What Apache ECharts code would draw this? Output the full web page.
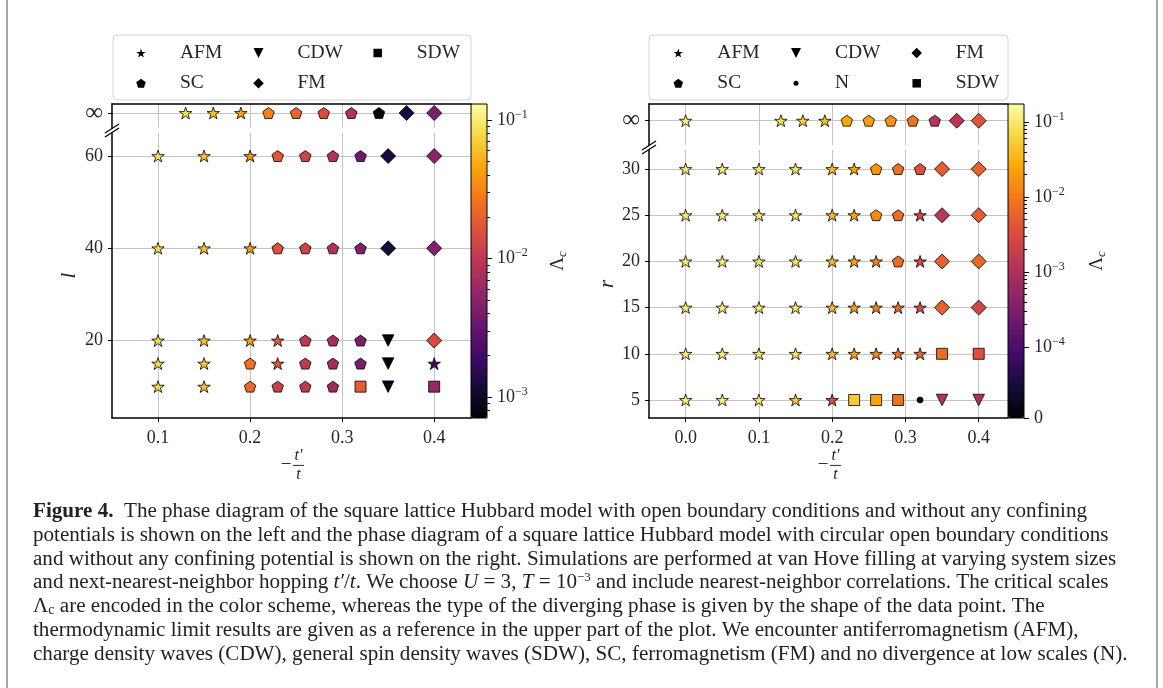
<!DOCTYPE html>
<html lang="en">
<head>
    <meta charset="UTF-8">
    <title>Phase diagram</title>
    <script src="https://cdn.jsdelivr.net/npm/echarts@6/dist/echarts.min.js"></script>
    <style>
        body { margin: 0; padding: 0; background: #fff; }
        #box { width: 1163px; height: 688px; }
    </style>
</head>
<body>
<div id="box"></div>
<script>
    // left panel: open boundaries, linear size l (row "inf" = thermodynamic limit)
    var hopLeftInf = [0.13, 0.16, 0.19, 0.22, 0.25, 0.28, 0.31, 0.34, 0.37, 0.40];
    var phaseLeftInf = ['AFM', 'AFM', 'AFM', 'SC', 'SC', 'SC', 'SC', 'SC', 'FM', 'FM'];
    var lamLeftInf = [0.086, 0.0629, 0.0436, 0.0303, 0.021, 0.0146, 0.0086, 0.00078, 0.00125, 0.00416];

    var hopLeft = [0.1, 0.15, 0.2, 0.23, 0.26, 0.29, 0.32, 0.35, 0.4];
    var sizeLeft = [60, 40, 20, 15, 10];
    var phaseLeft = [
        ['AFM', 'AFM', 'AFM', 'SC', 'SC', 'SC', 'SC', 'FM', 'FM'],
        ['AFM', 'AFM', 'AFM', 'SC', 'SC', 'SC', 'SC', 'FM', 'FM'],
        ['AFM', 'AFM', 'AFM', 'AFM', 'SC', 'SC', 'SC', 'CDW', 'FM'],
        ['AFM', 'AFM', 'SC', 'AFM', 'SC', 'SC', 'SC', 'CDW', 'AFM'],
        ['AFM', 'AFM', 'SC', 'SC', 'SC', 'SC', 'SDW', 'CDW', 'SDW']
    ];
    var lamLeft = [
        [0.086, 0.0629, 0.0373, 0.017, 0.0125, 0.0082, 0.00356, 0.00125, 0.00513],
        [0.0816, 0.0629, 0.0393, 0.0162, 0.0125, 0.0082, 0.00462, 0.00119, 0.00462],
        [0.0816, 0.0629, 0.0414, 0.0189, 0.0101, 0.00739, 0.00416, 0.0007, 0.0146],
        [0.0816, 0.0629, 0.0246, 0.017, 0.0101, 0.00702, 0.00416, 0.0007, 0.0018],
        [0.0816, 0.0629, 0.0221, 0.0112, 0.0101, 0.00665, 0.0189, 0.00087, 0.006]
    ];

    // right panel: circular open boundaries, radius r
    var hopRightInf = [0, 0.13, 0.16, 0.19, 0.22, 0.25, 0.28, 0.31, 0.34, 0.37, 0.40];
    var phaseRightInf = ['AFM', 'AFM', 'AFM', 'AFM', 'SC', 'SC', 'SC', 'SC', 'SC', 'FM', 'FM'];
    var lamRightInf = [0.118, 0.073, 0.0547, 0.0409, 0.0253, 0.0208, 0.0172, 0.00875, 0.00127, 0.00127, 0.00405];

    var hopRight = [0, 0.05, 0.1, 0.15, 0.2, 0.23, 0.26, 0.29, 0.32, 0.35, 0.4];
    var radRight = [30, 25, 20, 15, 10, 5];
    var phaseRight = [
        ['AFM', 'AFM', 'AFM', 'AFM', 'AFM', 'AFM', 'SC', 'SC', 'SC', 'FM', 'FM'],
        ['AFM', 'AFM', 'AFM', 'AFM', 'AFM', 'AFM', 'SC', 'SC', 'AFM', 'FM', 'FM'],
        ['AFM', 'AFM', 'AFM', 'AFM', 'AFM', 'AFM', 'AFM', 'SC', 'AFM', 'FM', 'FM'],
        ['AFM', 'AFM', 'AFM', 'AFM', 'AFM', 'AFM', 'AFM', 'AFM', 'AFM', 'FM', 'FM'],
        ['AFM', 'AFM', 'AFM', 'AFM', 'AFM', 'AFM', 'AFM', 'AFM', 'AFM', 'SDW', 'SDW'],
        ['AFM', 'AFM', 'AFM', 'AFM', 'AFM', 'SDW', 'SDW', 'SDW', 'N', 'CDW', 'CDW']
    ];
    var lamRight = [
        [0.107, 0.107, 0.0975, 0.0885, 0.0409, 0.0253, 0.0172, 0.00794, 0.00367, 0.00491, 0.0054],
        [0.107, 0.107, 0.0975, 0.0885, 0.0372, 0.0253, 0.0142, 0.00721, 0.0025, 0.0014, 0.00491],
        [0.107, 0.107, 0.0975, 0.0885, 0.0372, 0.023, 0.0117, 0.00721, 0.00275, 0.0054, 0.00655],
        [0.107, 0.107, 0.0975, 0.0885, 0.0372, 0.023, 0.0117, 0.00655, 0.00303, 0.0054, 0.0025],
        [0.107, 0.107, 0.0975, 0.0885, 0.0372, 0.023, 0.0129, 0.00794, 0.00655, 0.00721, 0.00367],
        [0.107, 0.107, 0.0975, 0.0451, 0.003, 0.0497, 0.023, 0.00794, 0, 0.00116, 0.00105]
    ];

    // ticks
    var tickLeftX = [0.1, 0.2, 0.3, 0.4];
    var tickLeftY = [20, 40, 60];
    var tickRightX = [0, 0.1, 0.2, 0.3, 0.4];
    var tickRightY = [5, 10, 15, 20, 25, 30];
    var cbLeftMajor = [1e-3, 1e-2, 1e-1];
    var cbRightMajor = [0, 1e-4, 1e-3, 1e-2, 1e-1];
    var cbLeftRange = [7.05e-4, 0.1305];
    var cbRightRange = [0, 0.174];

    var INFERNO = ['#000004', '#160b39', '#420a68', '#6a176e', '#932667', '#bc3754',
        '#dd513a', '#f37819', '#fca50a', '#f6d746', '#fcffa4'];
    var SERIF = 'Liberation Serif';
    var INK = '#262626';

    function log10(v) { return Math.log(v) / Math.LN10; }
    // symlog used by the right colour bar (linear below 1e-4)
    var LINTHRESH = 1e-4, LINWIDTH = 0.947;
    function symlog(v) {
        return v <= LINTHRESH ? LINWIDTH * v / LINTHRESH : LINWIDTH + log10(v / LINTHRESH);
    }

    // marker shapes like matplotlib's * p D s v .
    function poly(n, inner) {
        var k = inner ? 2 * n : n, d = '';
        for (var i = 0; i < k; i++) {
            var a = -Math.PI / 2 + i * 2 * Math.PI / k;
            var r = (inner && i % 2) ? inner : 1;
            d += (i ? 'L' : 'M') + (r * Math.cos(a)).toFixed(3) + ',' + (r * Math.sin(a)).toFixed(3);
        }
        return 'path://' + d + 'Z';
    }
    // aspect = width / height of the path box
    var SYM = {
        AFM: {path: poly(5, 0.382), size: 12.5, legend: 9, aspect: 1.051},
        SC: {path: poly(5), size: 11.5, legend: 9, aspect: 1.051},
        FM: {path: 'path://M0,-1L1,0L0,1L-1,0Z', size: 15, legend: 10.5, aspect: 1},
        SDW: {path: 'path://M-1,-1L1,-1L1,1L-1,1Z', size: 11, legend: 8.5, aspect: 1},
        CDW: {path: 'path://M-1,-1L1,-1L0,1Z', size: 11.5, legend: 10, aspect: 1},
        N: {path: 'path://M1,0A1,1 0 1,1 -1,0A1,1 0 1,1 1,0Z', size: 6, legend: 5, aspect: 1}
    };

    var series = [];
    function addSeries(xi, yi, pts, out) {
        var byPhase = {};
        pts.forEach(function (p) {
            (byPhase[p[3]] = byPhase[p[3]] || []).push([p[0], p[1], p[2]]);
        });
        Object.keys(byPhase).forEach(function (ph) {
            series.push({
                type: 'scatter', name: ph, xAxisIndex: xi, yAxisIndex: yi,
                symbol: SYM[ph].path, symbolSize: SYM[ph].size, symbolKeepAspect: true,
                itemStyle: {borderColor: '#000', borderWidth: 0.8, opacity: 1},
                emphasis: {disabled: true},
                data: byPhase[ph]
            });
            out.push(series.length - 1);
        });
    }
    function rowPoints(hops, y, phases, lams, tf) {
        return hops.map(function (h, i) { return [h, y, tf(lams[i]), phases[i]]; });
    }

    var leftIdx = [], rightIdx = [];
    addSeries(0, 0, rowPoints(hopLeftInf, 0, phaseLeftInf, lamLeftInf, log10), leftIdx);
    var leftMain = [];
    sizeLeft.forEach(function (l, r) {
        leftMain = leftMain.concat(rowPoints(hopLeft, l, phaseLeft[r], lamLeft[r], log10));
    });
    addSeries(1, 1, leftMain, leftIdx);
    addSeries(3, 4, rowPoints(hopRightInf, 0, phaseRightInf, lamRightInf, symlog), rightIdx);
    var rightMain = [];
    radRight.forEach(function (rr, r) {
        rightMain = rightMain.concat(rowPoints(hopRight, rr, phaseRight[r], lamRight[r], symlog));
    });
    addSeries(4, 5, rightMain, rightIdx);

    // colour bar minor ticks
    function minors(tf, lo, hi) {
        var out = [];
        [-4, -3, -2].forEach(function (k) {
            for (var m = 2; m <= 9; m++) {
                var v = m * Math.pow(10, k);
                if (v > lo && v < hi) out.push(tf(v));
            }
        });
        return out;
    }

    var GRIDLINE = {show: true, lineStyle: {color: '#c4c4c4', width: 1}};
    var SPINE = {show: true, onZero: false, lineStyle: {color: '#000', width: 1.5}};
    var TICK = {show: true, length: 4, inside: false, lineStyle: {color: '#000', width: 1}};
    var LABEL = {fontFamily: SERIF, fontSize: 18, color: INK};
    var supRich = {
        b: {fontFamily: SERIF, fontSize: 18, color: INK},
        s: {fontFamily: SERIF, fontSize: 12, color: INK, padding: [0, 0, 11, 0]}
    };
    var fracName = '{s| }{f|t′}\n{m|−}{bar| }\n{s| }{f|t}';
    var fracRich = {
        s: {width: 14, fontSize: 12, lineHeight: 13},
        f: {width: 11, align: 'center', fontFamily: SERIF, fontStyle: 'italic', fontSize: 16, lineHeight: 13, color: INK},
        m: {width: 14, align: 'center', fontFamily: SERIF, fontSize: 19, lineHeight: 6, color: INK},
        bar: {width: 11, height: 1, fontSize: 1, lineHeight: 6, backgroundColor: INK}
    };
    var lamName = '{a|Λ}{c|c}';
    var lamRich = {
        a: {fontFamily: SERIF, fontSize: 19, color: INK},
        c: {fontFamily: SERIF, fontStyle: 'italic', fontSize: 13, color: INK, padding: [8, 0, 0, 0]}
    };

    function xMain(grid, lo, hi, ticks) {
        return {
            gridIndex: grid, type: 'value', position: 'bottom', min: lo, max: hi,
            axisLine: SPINE, axisTick: Object.assign({customValues: ticks}, TICK),
            axisLabel: Object.assign({customValues: ticks, margin: 11, formatter: function (v) { return v.toFixed(1); }}, LABEL),
            splitLine: GRIDLINE,
            name: fracName, nameLocation: 'middle', nameGap: 27, nameTextStyle: {rich: fracRich}
        };
    }
    function xTop(grid, lo, hi, ticks) {
        return {
            gridIndex: grid, type: 'value', position: 'top', min: lo, max: hi,
            axisLine: SPINE, axisTick: {show: false, customValues: ticks},
            axisLabel: {show: false, customValues: ticks}, splitLine: GRIDLINE
        };
    }
    function yInf(grid, hi) {
        return {
            gridIndex: grid, type: 'value', min: -1, max: hi,
            axisLine: SPINE, axisTick: Object.assign({customValues: [0]}, TICK),
            axisLabel: {customValues: [0], margin: 9, formatter: function () { return '∞'; }, fontFamily: SERIF, fontSize: 25, color: INK},
            splitLine: GRIDLINE
        };
    }
    function yMain(grid, lo, hi, ticks, name, gap) {
        return {
            gridIndex: grid, type: 'value', min: lo, max: hi,
            axisLine: SPINE, axisTick: Object.assign({customValues: ticks}, TICK),
            axisLabel: Object.assign({customValues: ticks, margin: 9}, LABEL),
            splitLine: GRIDLINE,
            name: name, nameLocation: 'middle', nameGap: gap,
            nameTextStyle: {fontFamily: SERIF, fontStyle: 'italic', fontSize: 21, color: INK}
        };
    }
    function yBar(grid, lo, hi, majors, fmt, gap) {
        return {
            gridIndex: grid, type: 'value', position: 'right', min: lo, max: hi,
            axisLine: {show: false, onZero: false},
            axisTick: {show: true, length: 5, customValues: majors, lineStyle: {color: '#000', width: 1}},
            axisLabel: {customValues: majors, margin: 10, formatter: fmt, rich: supRich},
            splitLine: {show: false},
            name: lamName, nameLocation: 'middle', nameGap: gap, nameTextStyle: {rich: lamRich}
        };
    }
    function yBarMinor(grid, lo, hi, vals) {
        return {
            gridIndex: grid, type: 'value', position: 'right', min: lo, max: hi,
            axisLine: {show: false, onZero: false},
            axisTick: {show: true, length: 3, customValues: vals, lineStyle: {color: '#000', width: 1}},
            axisLabel: {show: false}, splitLine: {show: false}
        };
    }

    var lLo = log10(cbLeftRange[0]), lHi = log10(cbLeftRange[1]);
    var rLo = symlog(cbRightRange[0]), rHi = symlog(cbRightRange[1]);
    function fmtLeft(v) {
        var e = Math.round(v);
        return '{b|10}{s|−' + Math.abs(e) + '}';
    }
    function fmtRight(v) {
        if (v < 0.3) return '{b|0}';
        var e = Math.round(v - LINWIDTH) - 4;
        return '{b|10}{s|−' + Math.abs(e) + '}';
    }

    // legend: one component per entry so columns line up like matplotlib's.
    // ECharts places a legend by its drawn box, so left = marker centre - half marker width
    var legendSpots = [
        ['AFM', 141, 53], ['CDW', 258.5, 53], ['SDW', 377.7, 53], ['SC', 141, 83.3], ['FM', 258.5, 83.3],
        ['AFM', 678.3, 53], ['CDW', 796, 53], ['FM', 916.7, 53], ['SC', 678.3, 83.3], ['N', 796, 83.3], ['SDW', 916.7, 83.3]
    ];
    var legends = legendSpots.map(function (s) {
        var sym = SYM[s[0]];
        return {
            data: [s[0]], left: s[1] - sym.legend * sym.aspect / 2, top: s[2] - 12, padding: 0, itemGap: 0,
            itemWidth: 68, itemHeight: sym.legend, selectedMode: false,
            itemStyle: {color: '#000', borderWidth: 0},
            textStyle: {fontFamily: SERIF, fontSize: 19.5, color: INK, lineHeight: 24}
        };
    });

    var captionLines = [
        '{bf|Figure 4.}  The phase diagram of the square lattice Hubbard model with open boundary conditions and without any confining',
        'potentials is shown on the left and the phase diagram of a square lattice Hubbard model with circular open boundary conditions',
        'and without any confining potential is shown on the right. Simulations are performed at van Hove filling at varying system sizes',
        'and next-nearest-neighbor hopping {it|t′}/{it|t}. We choose {it|U} = 3, {it|T} = 10{sup|−3} and include nearest-neighbor correlations. The critical scales',
        'Λ{sub|c} are encoded in the color scheme, whereas the type of the diverging phase is given by the shape of the data point. The',
        'thermodynamic limit results are given as a reference in the upper part of the plot. We encounter antiferromagnetism (AFM),',
        'charge density waves (CDW), general spin density waves (SDW), SC, ferromagnetism (FM) and no divergence at low scales (N).'
    ];
    var CAP_FS = 21.1, CAP_LH = 23.7;

    function breakMark(cx, cy) {
        return [-2, 2].map(function (o) {
            return {
                type: 'line', z: 20,
                shape: {x1: cx - 7, y1: cy + 4.5 + o, x2: cx + 7, y2: cy - 4.5 + o},
                style: {stroke: '#000', lineWidth: 1.3}
            };
        });
    }

    var option = {
        animation: false,
        backgroundColor: '#fff',
        grid: [
            {left: 112, top: 104, width: 359, height: 24, outerBoundsMode: 'none'},
            {left: 112, top: 133, width: 359, height: 285, outerBoundsMode: 'none'},
            {left: 471, top: 104, width: 16, height: 314, outerBoundsMode: 'none'},
            {left: 649, top: 104, width: 359, height: 41, outerBoundsMode: 'none'},
            {left: 649, top: 150, width: 359, height: 268, outerBoundsMode: 'none'},
            {left: 1008, top: 104, width: 16, height: 314, outerBoundsMode: 'none'}
        ],
        xAxis: [
            xTop(0, 0.05, 0.44, tickLeftX),
            xMain(1, 0.05, 0.44, tickLeftX),
            {gridIndex: 2, type: 'value', show: false, min: 0, max: 1},
            xTop(3, -0.05, 0.44, tickRightX),
            xMain(4, -0.05, 0.44, tickRightX),
            {gridIndex: 5, type: 'value', show: false, min: 0, max: 1}
        ],
        yAxis: [
            yInf(0, 0.6),
            yMain(1, 3.2, 65, tickLeftY, 'l', 32),
            yBar(2, lLo, lHi, cbLeftMajor.map(log10), fmtLeft, 61),
            yBarMinor(2, lLo, lHi, minors(log10, cbLeftRange[0], cbLeftRange[1])),
            yInf(3, 0.687),
            yMain(4, 3.05, 32.06, tickRightY, 'r', 27),
            yBar(5, rLo, rHi, cbRightMajor.map(symlog), fmtRight, 63),
            yBarMinor(5, rLo, rHi, minors(symlog, 1.5e-4, cbRightRange[1]))
        ],
        visualMap: [
            {
                type: 'continuous', seriesIndex: leftIdx, dimension: 2, min: lLo, max: lHi,
                inRange: {color: INFERNO}, left: 471, top: 104, itemWidth: 16, itemHeight: 314,
                padding: 0, calculable: false, hoverLink: false, realtime: false
            },
            {
                type: 'continuous', seriesIndex: rightIdx, dimension: 2, min: rLo, max: rHi,
                inRange: {color: INFERNO}, left: 1008, top: 104, itemWidth: 16, itemHeight: 314,
                padding: 0, calculable: false, hoverLink: false, realtime: false
            }
        ],
        legend: legends,
        series: series,
        graphic: [
            {type: 'line', shape: {x1: 7, y1: 0, x2: 7, y2: 688}, style: {stroke: '#8a8a8a', lineWidth: 1.5}},
            {type: 'line', shape: {x1: 1157, y1: 0, x2: 1157, y2: 688}, style: {stroke: '#8a8a8a', lineWidth: 1.5}},
            {type: 'rect', z: 0, shape: {x: 113, y: 35, width: 358, height: 65, r: 4}, style: {fill: '#fff', stroke: '#d4d4d4', lineWidth: 1}},
            {type: 'rect', z: 0, shape: {x: 649, y: 35, width: 359, height: 65, r: 4}, style: {fill: '#fff', stroke: '#d4d4d4', lineWidth: 1}},
            {type: 'rect', z: 30, shape: {x: 471, y: 104, width: 16, height: 314}, style: {fill: 'none', stroke: '#000', lineWidth: 1}},
            {type: 'rect', z: 30, shape: {x: 1008, y: 104, width: 16, height: 314}, style: {fill: 'none', stroke: '#000', lineWidth: 1}}
        ].concat(breakMark(112, 130.5), breakMark(649, 147.5), [
            {
                type: 'text', left: 33, top: 500,
                style: {
                    text: captionLines.join('\n'),
                    fontFamily: SERIF, fontSize: CAP_FS, lineHeight: CAP_LH, fill: '#222',
                    rich: {
                        bf: {fontFamily: SERIF, fontWeight: 'bold', fontSize: CAP_FS, lineHeight: CAP_LH, color: '#222'},
                        it: {fontFamily: SERIF, fontStyle: 'italic', fontSize: CAP_FS, lineHeight: CAP_LH, color: '#222'},
                        sup: {fontFamily: SERIF, fontSize: 13, lineHeight: CAP_LH, color: '#222', padding: [0, 0, 10, 0]},
                        sub: {fontFamily: SERIF, fontSize: 14, lineHeight: CAP_LH, color: '#222', padding: [8, 0, 0, 0]}
                    }
                }
            }
        ])
    };

    var myChart = echarts.init(document.getElementById('box'));
    myChart.setOption(option);
</script>
</body>
</html>
